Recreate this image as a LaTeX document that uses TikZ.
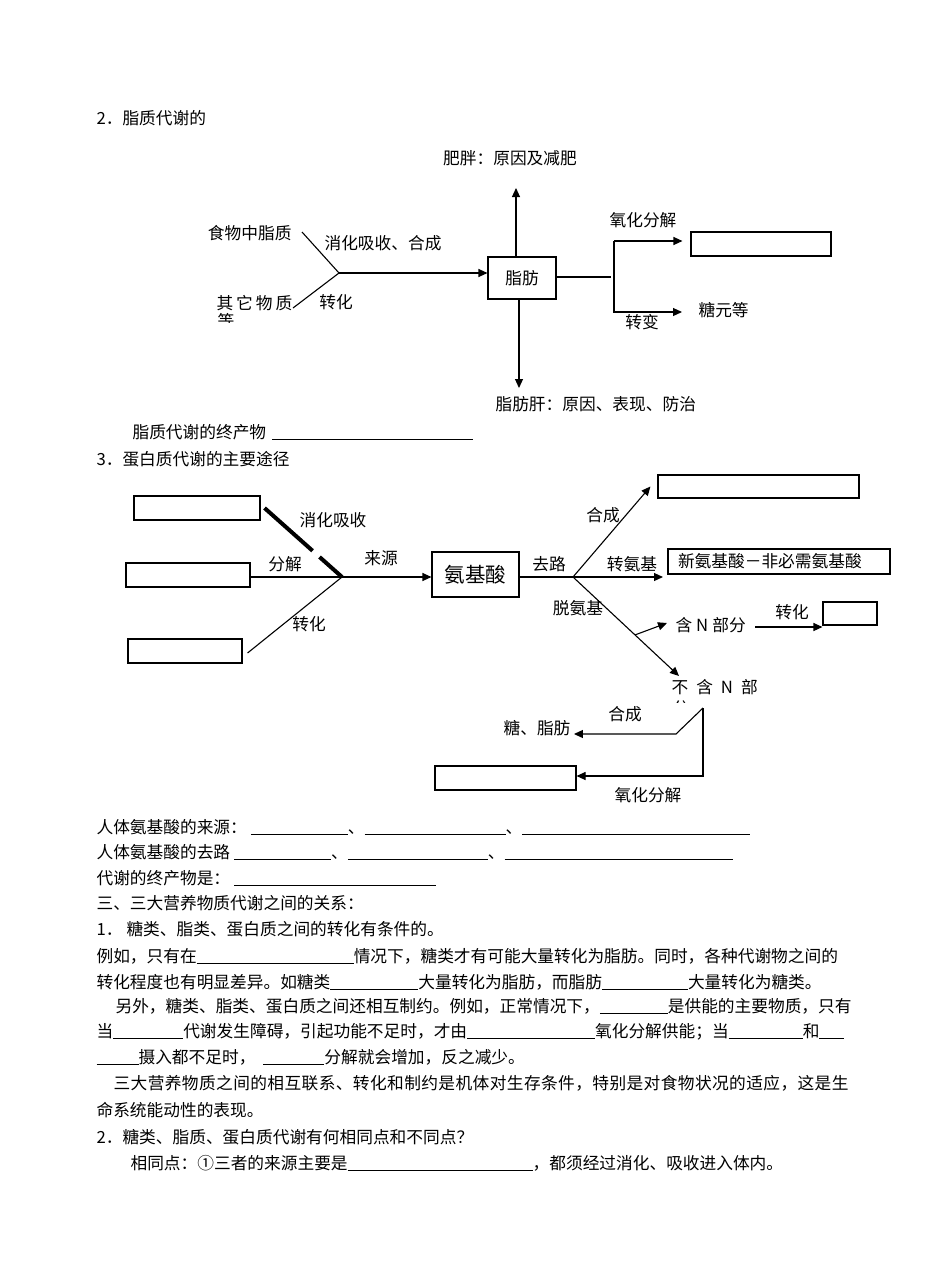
\documentclass[tikz,border=0pt]{standalone}
\usepackage{fontspec}
\newfontfamily\cjk{Noto Sans CJK SC}
\usetikzlibrary{arrows.meta,positioning,calc}
\tikzset{every picture/.style={line width=1.1pt}}
\tikzset{
  box/.style={draw, rectangle, inner sep=0pt},
  lbl/.style={inner sep=0pt},
  txtline/.style={lbl, anchor=west},
  arr/.style={-{Triangle[length=9pt,width=8pt]}},
}
\newcommand\blankfill[1]{\rule[-1.5pt]{#1pt}{0.8pt}}
\def\spreadfirst#1{#1\spreadrest}
\def\spreadrest#1{\ifx#1\relax\else\hfil#1\expandafter\spreadrest\fi}
\newcommand\spreadto[2]{\makebox[#1pt][s]{\spreadfirst#2\relax}}

\begin{document}
\begin{tikzpicture}[x=1pt, y=-1pt, font=\cjk\fontsize{16.7pt}{20pt}\selectfont]
\useasboundingbox (0,0) rectangle (950,1283);
\fill[white] (0,0) rectangle (950,1283);

% 脂质代谢
\node[txtline] (t2) at (96,118) {2．脂质代谢的};
\node[lbl] (obese) at (510,158) {肥胖：原因及减肥};
\node[box, minimum width=68pt, minimum height=42pt] (fat) at (522,278) {脂肪};
\node[lbl, anchor=east] (food) at (292,233) {食物中脂质};
\node[txtline] (other) at (216,303) {其\hspace{3pt}它\hspace{3pt}物\hspace{3pt}质};
\begin{scope}
  \clip (210,310) rectangle (245,322);
  \node[lbl] (deng) at (226,321) {等};
\end{scope}
\node[txtline] (absorb) at (324,243) {消化吸收、合成};
\node[lbl] (conv1) at (336,302) {转化};
\node[txtline] (liver) at (495,404) {脂肪肝：原因、表现、防治};
\node[lbl] (oxlbl) at (643,220) {氧化分解};
\node[box, minimum width=140pt, minimum height=24pt] (oxbox) at (761,244) {};
\node[txtline] (sugar) at (698,310) {糖元等};
\node[lbl] (chg) at (642,322) {转变};

\coordinate (j1) at (339,273);
\coordinate (f1) at (302,232);
\coordinate (o1) at (293,308);
\draw (f1) -- (j1);
\draw (o1) -- (j1);
\draw[arr] (j1) -- (j1 -| fat.west);
\coordinate (up) at (516,188);
\coordinate (down) at (519,388);
\draw[arr] (fat.north -| up) -- (up);
\draw[arr] (fat.south -| down) -- (down);
\coordinate (fr) at (611,277);
\coordinate (ft) at (614,241);
\coordinate (fb) at (614,312);
\draw (fat.east |- fr) -- (fr);
\draw (ft) -- ([yshift=-1pt]fb);
\draw[arr] (ft) -- ([xshift=-8pt]oxbox.west |- ft);
\draw[arr] (fb) -- ([xshift=-16pt]sugar.west |- fb);

\node[txtline] (fend) at (132,432) {脂质代谢的终产物\hspace{6pt}\blankfill{201}};

% 蛋白质代谢
\node[txtline] (t3) at (96,459) {3．蛋白质代谢的主要途径};
\node[box, minimum width=126pt, minimum height=24pt] (b1) at (197,508) {};
\node[box, minimum width=124pt, minimum height=24pt] (b2) at (188,575) {};
\node[box, minimum width=114pt, minimum height=24pt] (b3) at (185,651) {};
\node[box, minimum width=87pt, minimum height=45pt,
      font=\cjk\fontsize{20.5pt}{24pt}\selectfont] (amino) at (475.5,574.5) {氨基酸};
\node[lbl] (dig) at (333,520) {消化吸收};
\node[lbl] (dec) at (285,564) {分解};
\node[lbl] (src) at (381,558) {来源};
\node[lbl] (conv2) at (309,624) {转化};

\coordinate (j2) at (342,577);
\coordinate (k1) at ([xshift=4pt]b1.east);
\draw[line width=4pt] (k1) -- ($(k1)!0.62!(j2)$) ($(k1)!0.71!(j2)$) -- (j2);
\draw (b2.east |- j2) -- (j2);
\draw ([xshift=5pt,yshift=-2pt]b3.east) -- (j2);
\draw[arr] (j2) -- (j2 -| amino.west);

\node[lbl] (way) at (549,564) {去路};
\node[lbl] (syn) at (603,515) {合成};
\node[lbl] (trans) at (632,564) {转氨基};
\node[lbl] (deam) at (578,608) {脱氨基};
\node[box, minimum width=201pt, minimum height=23pt] (synbox) at (758.5,486.5) {};
\node[box, text width=202pt, inner xsep=10pt, minimum height=25pt, align=left]
      (newaa) at (779,561.5) {新氨基酸－非必需氨基酸};
\node[txtline] (hanN) at (675,625) {含\hspace{4pt}N\hspace{4pt}部分};
\node[lbl] (conv3) at (792,612) {转化};
\node[box, minimum width=54pt, minimum height=23pt] (nbox) at (850,613.5) {};
\node[txtline] (noN) at (671,687) {不\hspace{8pt}含\hspace{8pt}N\hspace{8pt}部};
\begin{scope}
  \clip (665,692) rectangle (700,702);
  \node[lbl] (fen) at (681,708) {分};
\end{scope}

\coordinate (j3) at (573,577);
\coordinate (tr) at (663,577);
\coordinate (nn) at (679,676);
\coordinate (nb) at ($(j3)!0.585!(nn)$);
\coordinate (cv) at (755,627);
\draw (amino.east |- j3) -- (j3);
\draw[arr] (j3) -- ([xshift=-7pt]synbox.west);
\draw[arr] (j3) -- (tr);
\draw[arr] (j3) -- (nn);
\draw[arr] (nb) -- ([xshift=-8pt,yshift=2pt]hanN.west);
\draw[arr] (cv) -- (cv -| nbox.west);

\node[lbl] (sf) at (537,728) {糖、脂肪};
\node[lbl] (syn2) at (625,714) {合成};
\node[box, minimum width=141pt, minimum height=24pt] (obox) at (505.5,778) {};
\node[lbl] (oxlbl2) at (648,795) {氧化分解};
\coordinate (q1) at (703,708);
\coordinate (q2) at (676,734);
\coordinate (q3) at (703,776);
\draw[arr] (q1) -- (q2) -- ([xshift=3pt]sf.east |- q2);
\draw[arr] (q1) -- (q3) -- (q3 -| obox.east);

% 文字部分
\node[txtline] (l1) at (96,827) {人体氨基酸的来源：\hspace{4pt}\blankfill{97}、\blankfill{141}、\blankfill{228}};
\node[txtline] (l2) at (96,852) {人体氨基酸的去路\hspace{4pt}\blankfill{97}、\blankfill{140}、\blankfill{228}};
\node[txtline] (l3) at (96,878) {代谢的终产物是：\hspace{4pt}\blankfill{202}};
\node[txtline] (l4) at (96,903) {三、三大营养物质代谢之间的关系：};
\node[txtline] (l5) at (96,929) {1．\hspace{4pt}糖类、脂类、蛋白质之间的转化有条件的。};
\node[txtline] (l6) at (96,956) {例如，只有在\blankfill{157}情况下，糖类才有可能大量转化为脂肪。同时，各种代谢物之间的};
\node[txtline] (l7) at (96,982) {转化程度也有明显差异。如糖类\blankfill{88}大量转化为脂肪，而脂肪\blankfill{86}大量转化为糖类。};
\node[txtline] (l8) at (115,1006) {另外，糖类、脂类、蛋白质之间还相互制约。例如，正常情况下，\blankfill{68}是供能的主要物质，只有};
\node[txtline] (l9) at (96,1032) {当\blankfill{70}代谢发生障碍，引起功能不足时，才由\blankfill{128}氧化分解供能；当\blankfill{74}和\blankfill{25}};
\node[txtline] (l10) at (96,1057) {\blankfill{42}摄入都不足时，\hspace{8pt}\blankfill{61}分解就会增加，反之减少。};
\node[txtline] (l11) at (113,1083) {\spreadto{735}{三大营养物质之间的相互联系、转化和制约是机体对生存条件，特别是对食物状况的适应，这是生}};
\node[txtline] (l12) at (96,1110) {命系统能动性的表现。};
\node[txtline] (l13) at (96,1137) {2．糖类、脂质、蛋白质代谢有何相同点和不同点？};
\node[txtline] (l14) at (130,1163) {相同点：①三者的来源主要是\blankfill{185}，都须经过消化、吸收进入体内。};
\end{tikzpicture}
\end{document}
